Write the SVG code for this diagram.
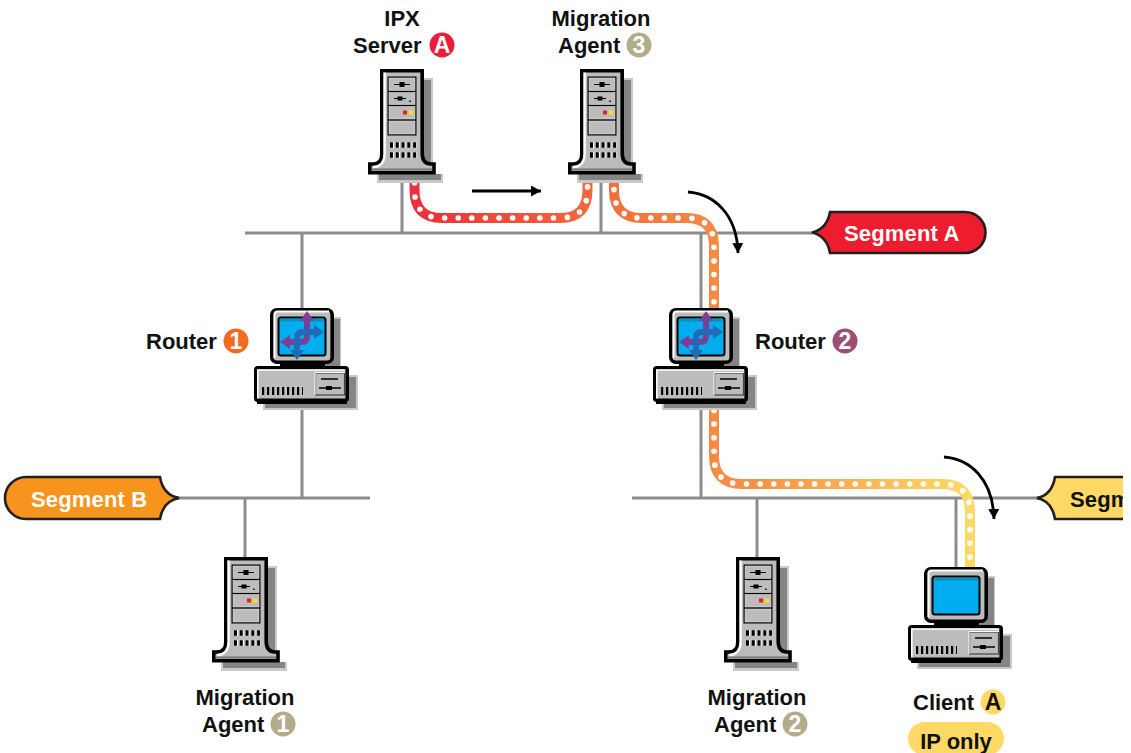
<svg xmlns="http://www.w3.org/2000/svg" width="1131" height="753" viewBox="0 0 1131 753">
<style>
text{font-family:"Liberation Sans",Arial,sans-serif;font-weight:700;font-size:22px;fill:#111}
.m{text-anchor:middle}
.b{font-size:23px;text-anchor:middle;fill:#fff}
.bk{font-size:23px;text-anchor:middle;fill:#111}
.seg{letter-spacing:.15px}
.net{stroke:#8c8c8c;stroke-width:3;fill:none}
.tube{fill:none;stroke-width:10}
.dots{fill:none;stroke:#fff;stroke-width:5.6;stroke-linecap:round;stroke-dasharray:0 13.6}
.arr{fill:none;stroke:#000;stroke-width:2.8}
.tag{stroke:#231f20;stroke-width:2.6}
</style>
<defs>
<linearGradient id="g1" gradientUnits="userSpaceOnUse" x1="414" y1="0" x2="590" y2="0"><stop offset="0" stop-color="#ee2e3a"/><stop offset="1" stop-color="#f4683a"/></linearGradient>
<linearGradient id="g2" gradientUnits="userSpaceOnUse" x1="614" y1="0" x2="970" y2="0"><stop offset="0" stop-color="#f4703a"/><stop offset=".28" stop-color="#f68a45"/><stop offset=".4" stop-color="#f79246"/><stop offset=".95" stop-color="#ffd45f"/><stop offset="1" stop-color="#ffd966"/></linearGradient>
<marker id="head" markerWidth="12" markerHeight="12" refX="10" refY="5.500" orient="auto" markerUnits="userSpaceOnUse"><path d="M0,0L10,5.500L0,11Z" fill="#000"/></marker>
<clipPath id="edge"><rect x="0" y="0" width="1123" height="753"/></clipPath>
<g id="server">
<rect x="54" y="9" width="11" height="88" fill="#c9c9c9"/>
<rect x="56" y="11" width="7" height="86" fill="#858585"/>
<rect x="9" y="105" width="66" height="9" fill="#c9c9c9"/>
<rect x="11" y="105" width="62" height="6" fill="#858585"/>
<path d="M13.800,1.800H54.200V84Q54.200,95 63,95H66V103.800H1.800V95H5Q13.800,95 13.800,85Z" fill="#bcbcbc" stroke="#000" stroke-width="3.600"/>
<path d="M16.600,3.600V85Q16.600,97 5,98.500" fill="none" stroke="#fff" stroke-width="2.400"/>
<path d="M4,100.500H64" stroke="#777" stroke-width="2"/>
<rect x="19.500" y="7.500" width="29" height="59" fill="#000"/>
<g fill="#bcbcbc" stroke="#e8e8e8" stroke-width=".6"><rect x="21" y="9" width="26" height="12.500"/><rect x="21" y="23.500" width="26" height="12"/><rect x="21" y="37.500" width="26" height="12.500"/><rect x="21" y="52" width="26" height="13"/></g>
<path d="M26,15.500H42M26,29.500H38" stroke="#000" stroke-width="1.200"/>
<rect x="31.500" y="13" width="5" height="5"/><rect x="29.500" y="27.500" width="5" height="4"/><rect x="41" y="31.500" width="2" height="1.500" fill="#333"/>
<rect x="35" y="41.500" width="4" height="4" fill="#ed1c24"/><rect x="41" y="41.500" width="4" height="4" fill="#ffe100"/>
<path d="M23,76H49M23,86H49" stroke="#fff" stroke-width="6" stroke-dasharray="3 2.800" fill="none"/>
<path d="M22,76H49M22,86H49" stroke="#000" stroke-width="5.600" stroke-dasharray="3 2.800" fill="none"/>
</g>
<g id="pc">
<rect x="26" y="9" width="61" height="54" fill="#c9c9c9"/>
<rect x="26" y="11" width="60" height="50" fill="#858585"/>
<rect x="9" y="67" width="95" height="35" fill="#c9c9c9"/>
<rect x="11" y="69" width="91" height="31" fill="#858585"/>
<rect x="17.800" y="1.800" width="60.400" height="52.400" rx="5" fill="#bcbcbc" stroke="#000" stroke-width="3.600"/>
<path d="M20.500,50V6.500Q20.500,3.600 23.500,3.600H75" fill="none" stroke="#fff" stroke-width="2"/>
<rect x="24.500" y="9.500" width="47" height="38" rx="2.500" fill="#00aeef" stroke="#000" stroke-width="2"/>
<rect x="26" y="10.500" width="44" height="3" fill="#0a8fb8"/>
<rect x="26" y="55" width="45" height="4" fill="#000"/>
<rect x="1.800" y="59.800" width="91.400" height="32.400" rx="2" fill="#bcbcbc" stroke="#000" stroke-width="3.600"/>
<path d="M3.800,90.500V62H91" fill="none" stroke="#fff" stroke-width="1.600"/>
<rect x="3" y="92" width="90" height="4" fill="#000"/>
<rect x="61.500" y="65" width="29" height="22" fill="#bcbcbc" stroke="#444" stroke-width="1.200"/>
<path d="M61,64.500H91M61,64.500V87" stroke="#fff" stroke-width="1.200" fill="none"/>
<path d="M67,71H84M65,80H87" stroke="#000" stroke-width="1.300"/>
<rect x="72" y="78" width="6" height="4"/>
<path d="M8,83H49" stroke="#000" stroke-width="8" stroke-dasharray="2.200 2.800" fill="none"/>
</g>
<g id="routes">
<path d="M34,34H47Q53,34 53,28V12" fill="none" stroke="#7b3f98" stroke-width="6"/>
<path d="M26,34L36,27V41ZM53,3L60,13H46Z" fill="#7b3f98"/>
<path d="M60,24H49Q43,24 43,30V43" fill="none" stroke="#1f6bb5" stroke-width="6"/>
<path d="M70,24L60,17V31ZM43,52L36,42H50Z" fill="#1f6bb5"/>
</g>
</defs>
<rect width="1131" height="753" fill="#fff"/>
<g id="connectors">
<path class="net" d="M245,233H812M402,175V233M601,175V233M302,233V310M701,233V310M302,400V498M701,400V498M175,498H370M632,498H1040M245,498V558M757,498V558M956,498V570"/>
<path class="tube" stroke="url(#g1)" d="M414.500,174V190Q414.500,218 442,218H560Q587.500,218 587.500,190V174"/>
<path class="dots" d="M414.500,183V190Q414.500,218 442,218H560Q587.500,218 587.500,190V176"/>
<path class="tube" stroke="url(#g2)" d="M614,174V190Q614,218 642,218H686Q714,218 714,246V456Q714,484 742,484H942Q970,484 970,512V570"/>
<path class="dots" d="M614,176V190Q614,218 642,218H686Q714,218 714,246V456Q714,484 742,484H942Q970,484 970,512V570"/>
<path class="arr" marker-end="url(#head)" d="M472,191H541"/>
<path class="arr" marker-end="url(#head)" d="M688,192C714,194 737,214 738,253"/>
<path class="arr" marker-end="url(#head)" d="M944,457C970,459 993,479 994,519"/>
</g>
<g id="ipx-server"><use href="#server" x="368" y="69"/><text class="m" x="402" y="26">IPX</text><text x="353" y="53">Server</text><circle cx="442" cy="45" r="12.500" fill="#ed1c3a"/><text class="b" x="442" y="53">A</text></g>
<g id="migration-agent-3"><use href="#server" x="568" y="69"/><text class="m" x="601" y="26">Migration</text><text x="558" y="53">Agent</text><circle cx="639" cy="45" r="12.500" fill="#b5ab8a"/><text class="b" x="639" y="53">3</text></g>
<g id="router-1"><use href="#pc" x="254" y="308"/><use href="#routes" x="254" y="308"/><text x="146" y="349">Router</text><circle cx="236" cy="341" r="12.500" fill="#f26b21"/><text class="b" x="236" y="349">1</text></g>
<g id="router-2"><use href="#pc" x="653" y="308"/><use href="#routes" x="653" y="308"/><text x="755" y="349">Router</text><circle cx="845" cy="341" r="12.500" fill="#9b4f72"/><text class="b" x="845" y="349">2</text></g>
<g id="migration-agent-1"><use href="#server" x="212" y="557"/><text class="m" x="245" y="705">Migration</text><text x="202" y="732">Agent</text><circle cx="283" cy="724" r="12.500" fill="#b5ab8a"/><text class="b" x="283" y="732">1</text></g>
<g id="migration-agent-2"><use href="#server" x="724" y="557"/><text class="m" x="757" y="705">Migration</text><text x="714" y="732">Agent</text><circle cx="795" cy="724" r="12.500" fill="#b5ab8a"/><text class="b" x="795" y="732">2</text></g>
<g id="client-a"><use href="#pc" x="908" y="567"/><text x="913" y="710">Client</text><circle cx="993" cy="702" r="12.500" fill="#ffd966"/><text class="bk" x="993" y="710">A</text><rect x="908" y="722" width="96" height="33" rx="16.500" fill="#ffd966"/><text class="m" x="956" y="749">IP only</text></g>
<g id="segment-a"><path class="tag" fill="#ed1c2e" d="M812,232.500Q827,229 830,212H965A20.500,20.500 0 0 1 965,253H830Q827,236 812,232.500Z"/><text class="seg" x="844" y="241" style="fill:#fff">Segment A</text></g>
<g id="segment-b"><path class="tag" fill="#f7941d" d="M179,498Q163,495 160,477H26A21,21 0 0 0 26,519H160Q163,501 179,498Z"/><text class="seg" x="31" y="507" style="fill:#fff">Segment B</text></g>
<g id="segment-c" clip-path="url(#edge)"><path class="tag" fill="#ffd966" d="M1037,498Q1052,495 1055,477H1140V519H1055Q1052,501 1037,498Z"/><text class="seg" x="1070" y="507">Segm</text></g>
</svg>
